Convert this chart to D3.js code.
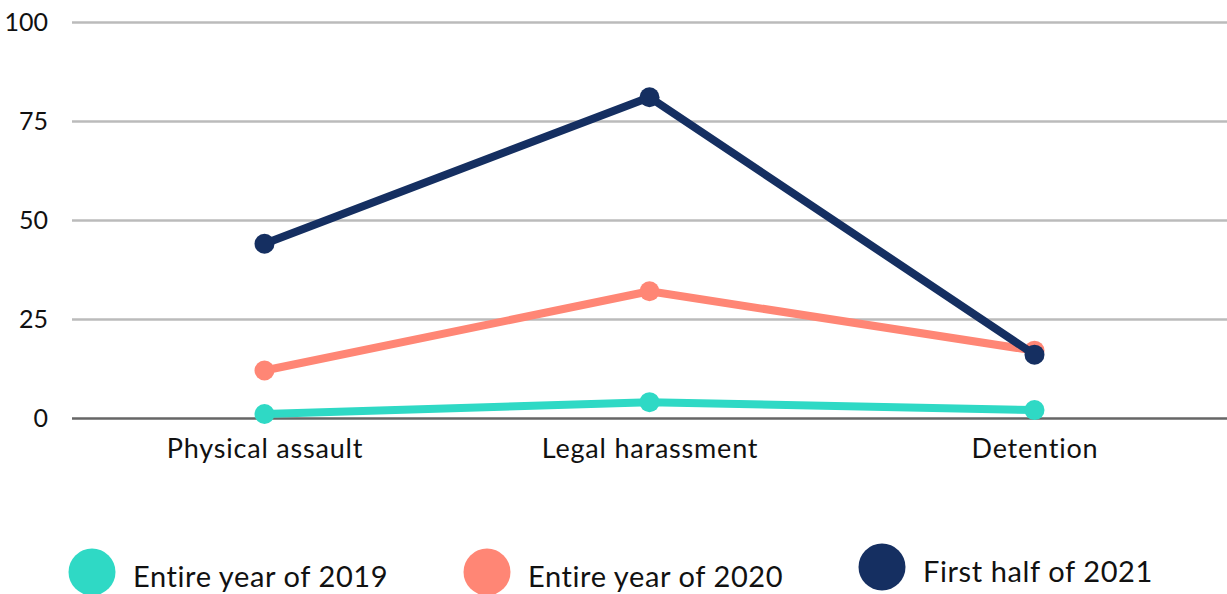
<!DOCTYPE html>
<html>
  <head>
    <meta http-equiv="Content-Type" content="text/html;charset=utf-8"/>
    <title>Incidents chart</title>
    <script src="https://d3js.org/d3.v7.min.js"></script>
    <style>
      body { margin: 0; background: #fff; }
      svg text { font-family: "Lato", "Noto Sans", sans-serif; fill: #111; }
    </style>
  </head>
  <body>
    <div id="chart"></div>
    <script type="text/javascript">
      const categories = ['Physical assault', 'Legal harassment', 'Detention']
      const seriesNames = ['Entire year of 2019', 'Entire year of 2020', 'First half of 2021']
      const values2019 = [1, 4, 2]
      const values2020 = [12, 32, 17]
      const values2021 = [44, 81, 16]
      const yTicks = [0, 25, 50, 75, 100]

      const colors = ['#2fd9c5', '#ff8675', '#152f61']
      const allValues = [values2019, values2020, values2021]

      const width = 1227,
            height = 594,
            plotLeft = 72,
            plotRight = 1227,
            plotTop = 22,
            plotBottom = 418

      const svg = d3.select('#chart').append('svg').attr('width', width).attr('height', height)

      const x = d3.scalePoint()
        .domain(categories)
        .range([plotLeft, plotRight])
        .padding(0.5)

      const y = d3.scaleLinear()
        .domain([0, 100])
        .range([plotBottom, plotTop])

      // grid
      const yAxis = d3.axisLeft(y).tickValues(yTicks).tickSize(-(plotRight - plotLeft)).tickPadding(24)
      const gy = svg.append('g').attr('transform', 'translate(' + plotLeft + ',0)').call(yAxis)
      gy.select('.domain').remove()
      gy.selectAll('.tick line')
        .attr('stroke', d => d === 0 ? '#666' : '#bbb')
        .attr('stroke-width', 2.5)
      gy.selectAll('.tick text')
        .style('font-size', '25px')
        .attr('fill', '#000')

      const xAxis = d3.axisBottom(x).tickSize(0).tickPadding(21)
      const gx = svg.append('g').attr('transform', 'translate(0,' + plotBottom + ')').call(xAxis)
      gx.select('.domain').remove()
      gx.selectAll('.tick text')
        .style('font-size', '27px')
        .style('letter-spacing', '0.8px')
        .attr('fill', '#000')

      const line = d3.line()
        .x((d, i) => x(categories[i]))
        .y(d => y(d))

      allValues.forEach((vals, s) => {
        const g = svg.append('g')
        g.append('path')
          .datum(vals)
          .attr('d', line)
          .attr('fill', 'none')
          .attr('stroke', colors[s])
          .attr('stroke-width', 8)
          .attr('stroke-linejoin', 'round')
        g.selectAll('circle')
          .data(vals)
          .enter()
          .append('circle')
          .attr('cx', (d, i) => x(categories[i]))
          .attr('cy', d => y(d))
          .attr('r', 10)
          .attr('fill', colors[s])
      })

      // legend
      const legendX = [92, 487, 882]
      const legendY = [572, 572, 567]
      const legend = svg.append('g')
      seriesNames.forEach((name, i) => {
        legend.append('circle')
          .attr('cx', legendX[i])
          .attr('cy', legendY[i])
          .attr('r', 23.5)
          .attr('fill', colors[i])
        legend.append('text')
          .attr('x', legendX[i] + 41)
          .attr('y', legendY[i] + 15)
          .style('font-size', '29px')
          .style('letter-spacing', '0.6px')
          .attr('fill', '#000')
          .text(name)
      })
    </script>
  </body>
</html>
